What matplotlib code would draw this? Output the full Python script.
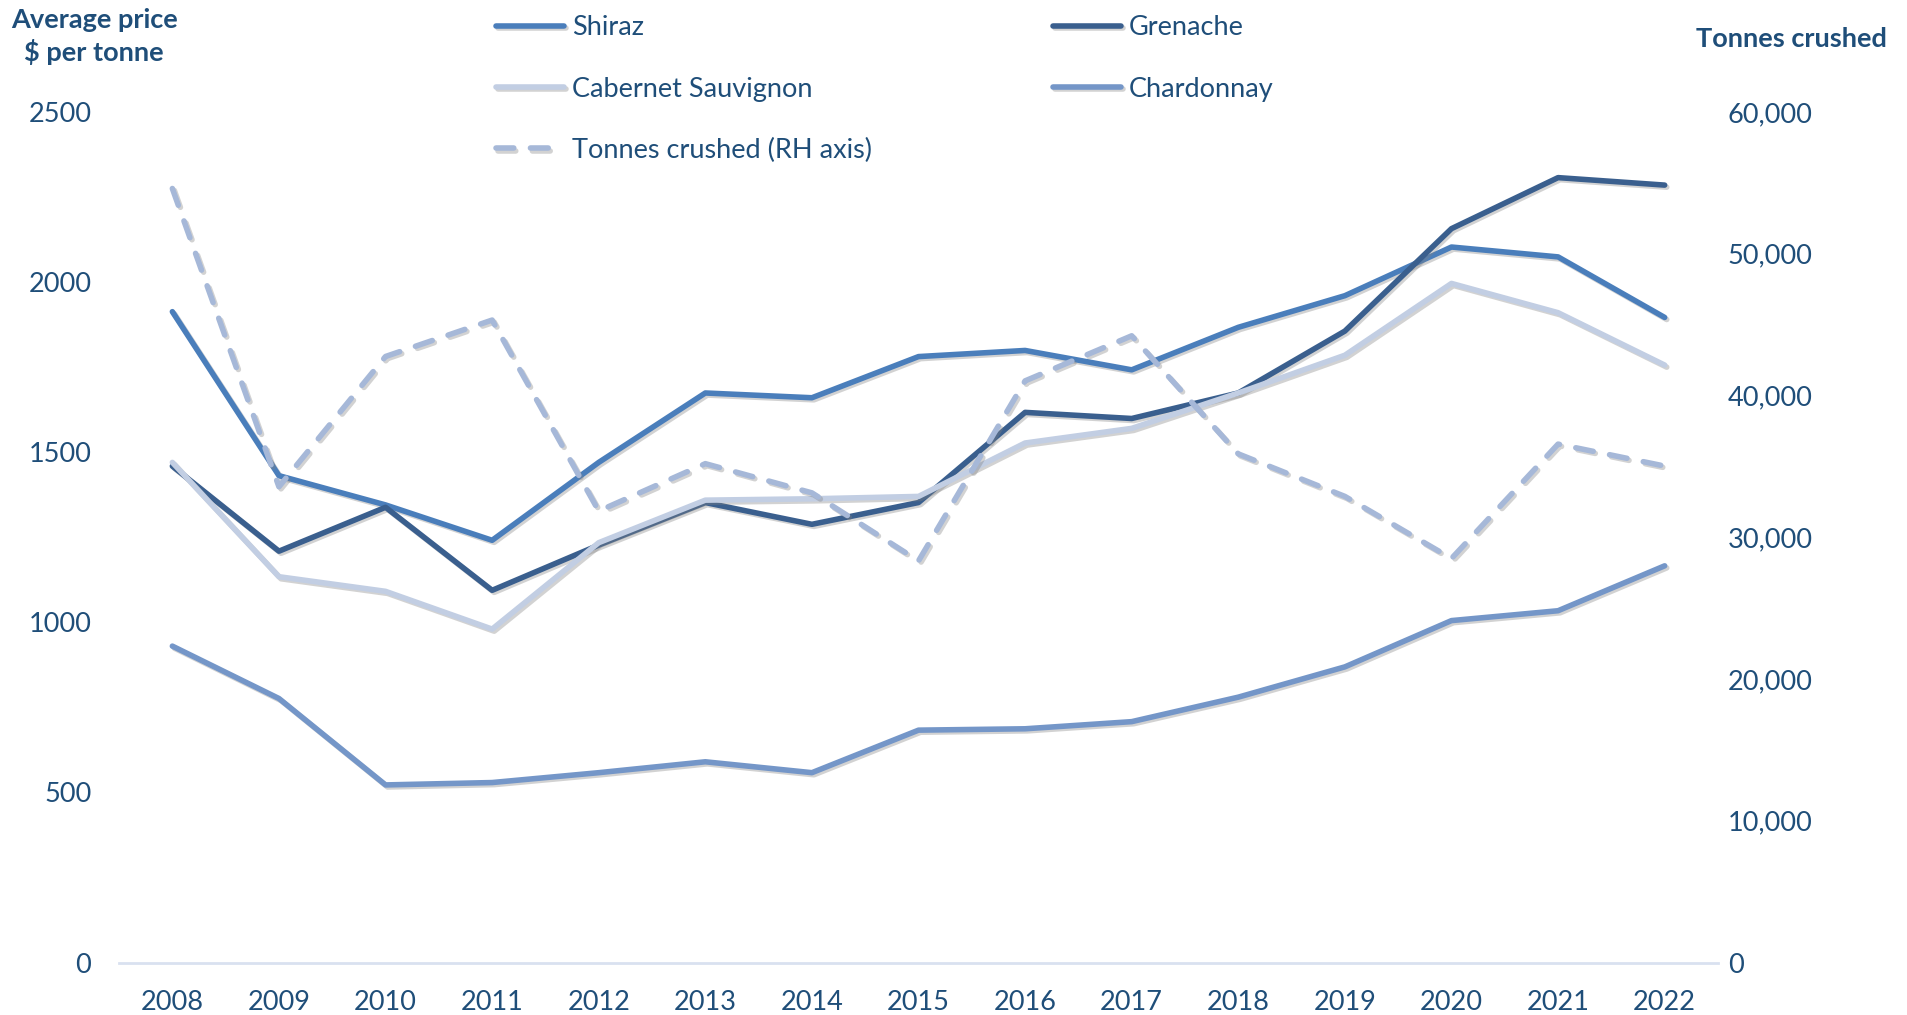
import numpy as np
import matplotlib
matplotlib.use("Agg")
import matplotlib.pyplot as plt
import matplotlib.patheffects as pe

plt.rcParams['font.family'] = ['Lato', 'DejaVu Sans']

# Data
years = [2008, 2009, 2010, 2011, 2012, 2013, 2014, 2015, 2016, 2017, 2018, 2019, 2020, 2021, 2022]
shiraz = [1913, 1431, 1345, 1241, 1470, 1674, 1660, 1781, 1799, 1742, 1867, 1960, 2103, 2074, 1896]
grenache = [1459, 1209, 1338, 1094, 1227, 1352, 1288, 1352, 1617, 1599, 1674, 1856, 2157, 2307, 2285]
cabernet = [1470, 1134, 1091, 980, 1234, 1359, 1363, 1370, 1527, 1570, 1674, 1785, 1996, 1910, 1756]
chardonnay = [930, 776, 522, 529, 558, 590, 558, 683, 687, 708, 780, 869, 1005, 1034, 1166]
tonnes = [54600, 33560, 42750, 45320, 31850, 35190, 33130, 28330, 41030, 44210, 35880, 32880, 28500, 36570, 35020]

left_ticks = [0, 500, 1000, 1500, 2000, 2500]
right_ticks = [0, 10000, 20000, 30000, 40000, 50000, 60000]

txt = '#1f4e79'
c_shiraz = '#4a7ebb'
c_gren = '#3a5f8e'
c_cab = '#c2cee3'
c_chard = '#7496c8'
c_ton = '#a6b8d8'
fs = 19.5

shadow = [pe.SimpleLineShadow(offset=(1.5, -1.5), shadow_color='gray', alpha=0.35), pe.Normal()]

fig = plt.figure(figsize=(19.08, 10.15), dpi=100)
ax = fig.add_axes([0.0624, 0.0517, 0.838, 0.838])
ax2 = ax.twinx()

lw = 4.0
l1, = ax.plot(years, shiraz, color=c_shiraz, lw=lw, label='Shiraz', path_effects=shadow, solid_capstyle='round')
l2, = ax.plot(years, grenache, color=c_gren, lw=lw, label='Grenache', path_effects=shadow, solid_capstyle='round')
l3, = ax.plot(years, cabernet, color=c_cab, lw=lw, label='Cabernet Sauvignon', path_effects=shadow, solid_capstyle='round')
l4, = ax.plot(years, chardonnay, color=c_chard, lw=lw, label='Chardonnay', path_effects=shadow, solid_capstyle='round')
l5, = ax2.plot(years, tonnes, color=c_ton, lw=lw, label='Tonnes crushed (RH axis)', dashes=(3.2, 3.0),
               dash_capstyle='round', path_effects=shadow)

ax.set_xlim(2007.5, 2022.5)
ax.set_ylim(0, 2500)
ax2.set_ylim(0, 60000)
ax.set_xticks(years)
ax.set_xticklabels([str(y) for y in years])
ax.set_yticks(left_ticks)
ax.set_yticklabels([str(v) for v in left_ticks])
ax2.set_yticks(right_ticks)
ax2.set_yticklabels([f'{v:,}' for v in right_ticks])

for a in (ax, ax2):
    for s in ['top', 'left', 'right', 'bottom']:
        a.spines[s].set_visible(False)
ax.spines['bottom'].set_visible(True)
ax.spines['bottom'].set_color('#d9e1f0')
ax.spines['bottom'].set_linewidth(2)

ax.tick_params(axis='x', length=0, pad=20, labelsize=fs, labelcolor=txt)
ax.tick_params(axis='y', length=0, pad=20, labelsize=fs, labelcolor=txt)
ax2.tick_params(axis='y', length=0, pad=7, labelsize=fs, labelcolor=txt)

fig.text(0.0493, 0.992, 'Average price\n$ per tonne', ha='center', va='top', fontsize=fs,
         fontweight='bold', color=txt, linespacing=1.3)
fig.text(0.9387, 0.962, 'Tonnes crushed', ha='center', va='center', fontsize=fs,
         fontweight='bold', color=txt)

leg = fig.legend([l1, l3, l5, l2, l4], [h.get_label() for h in [l1, l3, l5, l2, l4]],
                 ncol=2, loc='upper left', bbox_to_anchor=(0.26, 0.985), frameon=False,
                 fontsize=fs, handlelength=2.5, handletextpad=0.3, labelspacing=1.34,
                 columnspacing=6.7, borderpad=0, borderaxespad=0)
for t in leg.get_texts():
    t.set_color(txt)

fig.savefig('out.png', dpi=100)
